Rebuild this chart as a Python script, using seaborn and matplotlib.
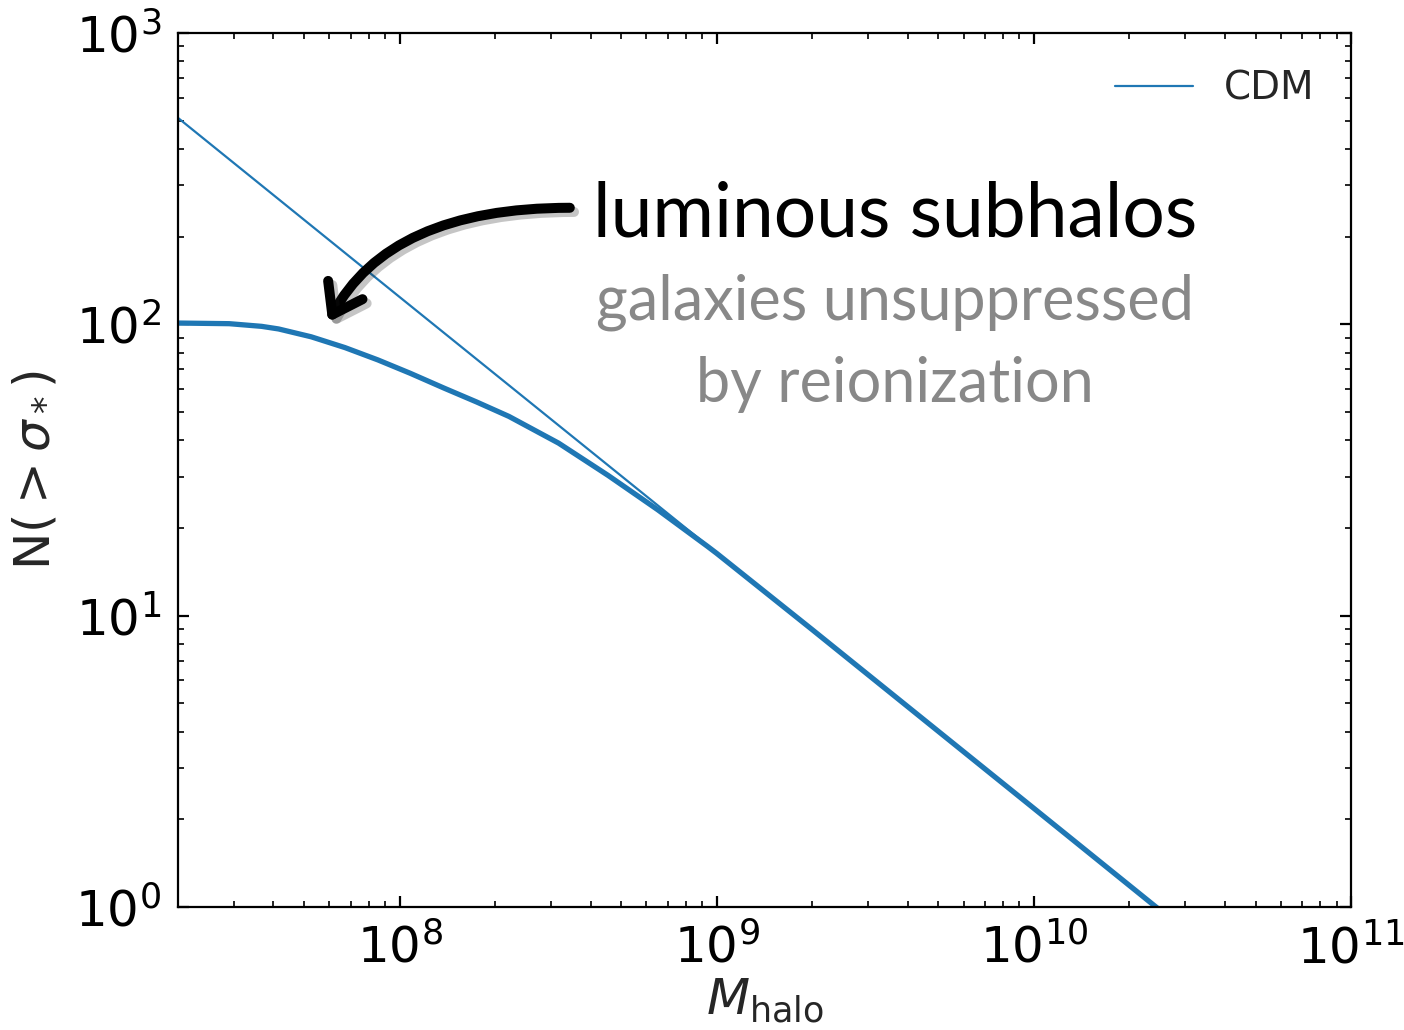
import numpy as np
import pandas as pd
import matplotlib
matplotlib.use("Agg")
import matplotlib.pyplot as plt
import matplotlib.patheffects as pe
import seaborn as sns

# ---- data ----
cdm_mass = [2.0e7, 1.0e8, 1.0e9, 1.0e10, 1.0e11]
cdm_count = [511.0, 124.0, 16.4, 2.18, 0.29]

lum_mass = [2.0e7, 2.9e7, 3.67e7, 4.15e7, 5.26e7, 6.72e7, 8.53e7, 1.08e8,
            1.38e8, 1.75e8, 2.21e8, 3.17e8, 4.54e8, 6.51e8, 9.34e8, 1.0e9,
            2.0e9, 3.0e9, 1.0e10, 3.0e10]
lum_count = [101.0, 100.5, 98.4, 96.4, 90.6, 83.2, 75.5, 67.9,
             60.4, 54.1, 48.3, 39.1, 30.3, 23.1, 17.3, 16.35,
             8.95, 6.27, 2.18, 0.83]

legend_label = "CDM"
x_label = r"$M_{\rm halo}$"
y_label = r"N$(>\sigma_*)$"
title_text = "luminous subhalos"
sub_line1 = "galaxies unsuppressed"
sub_line2 = "by reionization"

sns.set_theme(style="ticks")
plt.rcParams["font.family"] = ["DejaVu Sans"]
plt.rcParams["mathtext.fontset"] = "dejavusans"

fig = plt.figure(figsize=(7.02, 5.15), dpi=200)
ax = fig.add_axes([0.1268, 0.1194, 0.9623 - 0.1268, 0.968 - 0.1194])

blue = "#1f77b4"
df_cdm = pd.DataFrame({"M": cdm_mass, "N": cdm_count})
df_lum = pd.DataFrame({"M": lum_mass, "N": lum_count})

sns.lineplot(data=df_cdm, x="M", y="N", ax=ax, color=blue, lw=0.8, label=legend_label)
sns.lineplot(data=df_lum, x="M", y="N", ax=ax, color=blue, lw=1.9, legend=False)

ax.set_xscale("log")
ax.set_yscale("log")
ax.set_xlim(2e7, 1e11)
ax.set_ylim(1, 1e3)

ax.tick_params(which="both", direction="in", top=True, right=True, colors="black")
ax.tick_params(which="major", length=4, width=0.8, labelsize=18, pad=6)
ax.tick_params(which="minor", length=2.2, width=0.6)
for s in ax.spines.values():
    s.set_color("black")
    s.set_linewidth(0.8)

ax.set_xlabel(x_label, fontsize=18, labelpad=1)
ax.set_ylabel(y_label, fontsize=18, labelpad=6)

leg = ax.legend(loc="upper right", frameon=False, fontsize=14, handlelength=2.0,
                borderaxespad=0.55)

# annotation text
ax.text(0.611, 0.767, title_text, transform=ax.transAxes, ha="center", va="baseline",
        fontsize=27, family="Lato", color="black")
ax.text(0.611, 0.672, sub_line1, transform=ax.transAxes, ha="center", va="baseline",
        fontsize=22, family="Lato", color="#888888")
ax.text(0.611, 0.578, sub_line2, transform=ax.transAxes, ha="center", va="baseline",
        fontsize=22, family="Lato", color="#888888")

# curved arrow
ax.annotate("", xy=(0.128, 0.669), xycoords="axes fraction",
            xytext=(0.334, 0.800), textcoords="axes fraction",
            arrowprops=dict(arrowstyle="->,head_length=0.5,head_width=0.35",
                            connectionstyle="angle3,angleA=0,angleB=62",
                            color="black", lw=3.6, mutation_scale=20,
                            shrinkA=0, shrinkB=0,
                            path_effects=[pe.SimpleLineShadow(offset=(1.5, -1.5), alpha=0.25,
                                                              shadow_color="k"),
                                          pe.Normal()]))

fig.savefig("out.png", dpi=200)
